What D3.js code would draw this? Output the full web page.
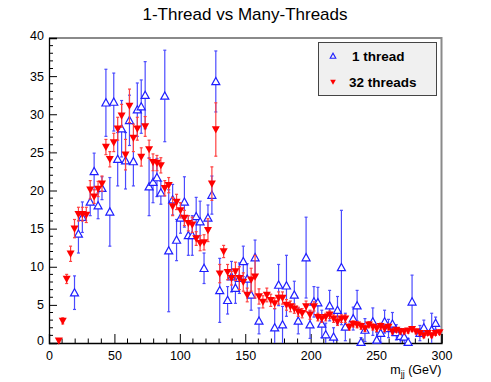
<!doctype html>
<html>
  <head>
    <script src="https://cdnjs.cloudflare.com/ajax/libs/d3/7.8.5/d3.min.js"></script>
    <style>
      body { margin: 0; background: #ffffff; }
      svg { display: block; font-family: "Liberation Sans", Arial, sans-serif; }
    </style>
  </head>
  <body>
    <svg id="chart"></svg>
    <script>
      // titles and legend texts
      var chartTitle = "1-Thread vs Many-Threads";
      var seriesNames = ["1 thread", "32 threads"];
      var xTicks = [0, 50, 100, 150, 200, 250, 300];
      var yTicks = [0, 5, 10, 15, 20, 25, 30, 35, 40];

      // 32 threads (red): bin centre, content, error
      var redMass = [7.5, 10.5, 13.5, 16.5, 19.5, 22.5, 25.5, 28.5, 31.5, 34.5,
        37.5, 40.5, 43.5, 46.5, 49.5, 52.5, 55.5, 58.5, 61.5, 64.5,
        67.5, 70.5, 73.5, 76.5, 79.5, 82.5, 85.5, 88.5, 91.5, 94.5,
        97.5, 100.5, 103.5, 106.5, 109.5, 112.5, 115.5, 118.5, 121.5, 124.5,
        127.5, 130.5, 133.5, 136.5, 139.5, 142.5, 145.5, 148.5, 151.5, 154.5,
        157.5, 160.5, 163.5, 166.5, 169.5, 172.5, 175.5, 178.5, 181.5, 184.5,
        187.5, 190.5, 193.5, 196.5, 199.5, 202.5, 205.5, 208.5, 211.5, 214.5,
        217.5, 220.5, 223.5, 226.5, 229.5, 232.5, 235.5, 238.5, 241.5, 244.5,
        247.5, 250.5, 253.5, 256.5, 259.5, 262.5, 265.5, 268.5, 271.5, 274.5,
        277.5, 280.5, 283.5, 286.5, 289.5, 292.5, 295.5, 298.5];
      var redVal = [0.3, 2.9, 8.4, 11.7, 15.0, 16.9, 16.9, 16.8, 20.1, 19.2,
        20.2, 20.9, 25.7, 24.1, 26.3, 28.1, 29.8, 24.7, 31.1, 26.9,
        28.1, 24.4, 28.4, 25.4, 23.7, 23.6, 23.3, 20.3, 20.7, 17.9,
        18.5, 17.4, 16.4, 15.7, 15.5, 13.7, 13.1, 13.2, 14.8, 20.9,
        28.0, 9.1, 12.0, 9.3, 8.5, 9.4, 8.5, 8.0, 6.3, 8.3,
        8.7, 6.1, 5.4, 6.3, 5.6, 5.2, 5.9, 5.9, 5.0, 4.8,
        4.5, 4.1, 3.9, 4.8, 3.7, 4.8, 3.4, 3.2, 3.4, 3.7,
        3.2, 2.8, 3.2, 3.2, 2.1, 2.5, 2.4, 2.2, 1.9, 2.4,
        2.1, 1.9, 2.2, 1.9, 2.1, 1.5, 1.7, 1.5, 1.5, 1.6,
        1.8, 1.5, 1.3, 1.0, 1.3, 1.0, 1.3, 1.4];
      var redErr = [0.2, 0.4, 0.6, 1.0, 1.2, 0.9, 0.9, 1.0, 1.2, 0.9,
        1.0, 1.0, 1.0, 1.0, 1.2, 1.5, 1.5, 2.0, 2.2, 1.8,
        1.5, 1.2, 1.3, 1.2, 1.1, 1.0, 1.0, 1.0, 1.0, 1.2,
        1.0, 1.0, 1.0, 1.0, 1.0, 0.9, 1.0, 1.0, 1.5, 2.2,
        3.5, 1.2, 0.8, 1.0, 0.9, 1.2, 1.5, 1.2, 0.9, 1.5,
        2.8, 1.0, 0.8, 0.9, 0.8, 0.7, 0.8, 0.8, 0.7, 0.7,
        0.6, 0.6, 0.6, 0.7, 0.6, 0.6, 0.5, 0.5, 0.5, 0.5,
        0.5, 0.5, 0.5, 0.5, 0.4, 0.4, 0.4, 0.4, 0.4, 0.4,
        0.4, 0.4, 0.4, 0.4, 0.4, 0.3, 0.3, 0.3, 0.3, 0.3,
        0.3, 0.3, 0.3, 0.3, 0.3, 0.3, 0.3, 0.3];

      // 1 thread (blue): bin centre, content, error
      var blueMass = [19.5, 22.5, 25.5, 31.5, 34.5, 37.5, 40.5, 43.5, 46.5, 49.5,
        52.5, 55.5, 58.5, 61.5, 64.5, 67.5, 70.5, 73.5, 76.5, 79.5,
        82.5, 85.5, 88.5, 91.5, 94.5, 97.5, 100.5, 103.5, 106.5, 109.5,
        112.5, 115.5, 118.5, 121.5, 124.5, 127.5, 130.5, 136.5, 139.5, 142.5,
        145.5, 148.5, 151.5, 154.5, 157.5, 160.5, 172.5, 175.5, 178.5, 181.5,
        187.5, 190.5, 196.5, 199.5, 202.5, 205.5, 208.5, 211.5, 214.5, 217.5,
        220.5, 223.5, 226.5, 232.5, 235.5, 238.5, 241.5, 247.5, 250.5, 253.5,
        256.5, 259.5, 262.5, 265.5, 268.5, 271.5, 274.5, 277.5, 283.5, 286.5,
        292.5, 295.5];
      var blueVal = [6.6, 14.3, 16.5, 18.5, 22.5, 18.0, 20.3, 31.5, 17.2, 31.6,
        24.1, 28.1, 23.9, 29.2, 23.8, 30.6, 31.0, 32.5, 20.5, 21.1,
        21.7, 19.7, 32.4, 12.1, 18.8, 13.5, 16.4, 18.5, 14.1, 14.1,
        16.6, 15.9, 9.8, 16.4, 19.4, 34.3, 6.9, 5.6, 8.7, 7.2,
        8.5, 10.7, 8.4, 6.3, 11.2, 2.9, 2.0, 7.6, 2.4, 7.5,
        6.3, 2.9, 11.2, 2.4, 5.4, 5.3, 2.5, 1.1, 4.9, 0.8,
        4.3, 9.9, 2.1, 3.2, 4.9, 0.1, 1.7, 2.8, 0.4, 1.3,
        2.8, 1.9, 2.5, 1.4, 0.9, 0.8, 0.1, 5.4, 1.3, 2.0,
        1.7, 2.6];
      var blueErr = [2.2, 2.5, 2.0, 1.8, 2.4, 1.7, 1.5, 4.4, 4.5, 3.8,
        3.5, 3.7, 3.7, 3.3, 3.2, 3.5, 3.5, 4.4, 3.8, 2.7,
        2.5, 1.5, 6.0, 8.0, 2.0, 2.7, 2.0, 3.3, 2.6, 2.6,
        2.5, 2.7, 2.0, 1.7, 2.5, 4.0, 4.2, 1.8, 2.0, 2.0,
        2.0, 2.0, 2.0, 2.0, 2.3, 1.7, 2.5, 2.7, 2.4, 4.0,
        1.8, 1.7, 5.3, 1.8, 2.0, 2.0, 1.8, 1.5, 2.0, 1.2,
        1.8, 7.5, 1.8, 1.5, 2.0, 0.6, 1.5, 1.8, 1.0, 1.2,
        1.5, 1.2, 1.5, 1.0, 1.0, 1.0, 0.5, 3.5, 1.0, 1.0,
        2.2, 0.8];

      var width = 491, height = 382;
      var padL = 49, padR = 441.5, padT = 38, padB = 343;

      var svg = d3.select("#chart").attr("width", width).attr("height", height);

      var x = d3.scaleLinear().domain([0, 300]).range([padL, padR]);
      var y = d3.scaleLinear().domain([0, 40]).range([padB, padT]);

      // title
      svg.append("text")
        .attr("x", 245).attr("y", 20)
        .attr("text-anchor", "middle")
        .attr("font-size", 17)
        .text(chartTitle);

      // frame (top and right in grey)
      svg.append("path")
        .attr("d", "M" + padL + "," + padT + "H" + padR + "V" + padB)
        .attr("fill", "none").attr("stroke", "#8a8a8a").attr("stroke-width", 2);

      // y axis with minor ticks
      var yAxis = d3.axisLeft(y).tickValues(yTicks).tickSize(-8).tickPadding(4)
        .tickFormat(d3.format("d"));
      var gy = svg.append("g").attr("transform", "translate(" + padL + ",0)").call(yAxis);
      gy.selectAll(".tick text").attr("x", -5).attr("text-anchor", "end").attr("font-size", 12.5)
        .attr("font-family", "Liberation Sans, Arial, sans-serif");
      gy.selectAll(".tick text").filter(function(d) { return d === 0 || d === 40; }).attr("dy", "0.1em");
      gy.append("g").selectAll("line").data(d3.range(0, 40, 1).filter(function(v) { return v % 5 !== 0; }))
        .enter().append("line")
          .attr("x1", 0).attr("x2", 4)
          .attr("y1", function(d) { return y(d); }).attr("y2", function(d) { return y(d); })
          .attr("stroke", "#000");

      // x axis with minor ticks
      var xAxis = d3.axisBottom(x).tickValues(xTicks).tickSize(-9).tickPadding(5)
        .tickFormat(d3.format("d"));
      var gx = svg.append("g").attr("transform", "translate(0," + padB + ")").call(xAxis);
      gx.selectAll(".tick text").attr("y", 8).attr("font-size", 12.5)
        .attr("font-family", "Liberation Sans, Arial, sans-serif");
      gx.append("g").selectAll("line").data(d3.range(0, 300, 10).filter(function(v) { return v % 50 !== 0; }))
        .enter().append("line")
          .attr("x1", function(d) { return x(d); }).attr("x2", function(d) { return x(d); })
          .attr("y1", 0).attr("y2", -4.5)
          .attr("stroke", "#000");
      svg.selectAll(".domain").attr("stroke", "#000").attr("stroke-width", 1.3);

      // x axis title m_jj (GeV)
      var xt = svg.append("text")
        .attr("x", padR).attr("y", 374)
        .attr("text-anchor", "end")
        .attr("font-size", 12.5);
      xt.append("tspan").text("m");
      xt.append("tspan").attr("dy", 3).attr("font-size", 9).text("jj");
      xt.append("tspan").attr("dy", -3).text(" (GeV)");

      function upTri(cx, cy, s) {
        return "M" + (cx - s) + "," + (cy + s * 0.8) + "L" + (cx + s) + "," + (cy + s * 0.8) +
          "L" + cx + "," + (cy - s) + "Z";
      }
      function downTri(cx, cy, s) {
        return "M" + (cx - s) + "," + (cy - s * 0.8) + "L" + (cx + s) + "," + (cy - s * 0.8) +
          "L" + cx + "," + (cy + s) + "Z";
      }

      var plot = svg.append("g");

      function drawErrors(mass, val, err, color) {
        var g = plot.append("g").attr("stroke", color).attr("stroke-width", 1.2);
        mass.forEach(function(m, i) {
          var lo = Math.max(0, val[i] - err[i]), hi = val[i] + err[i];
          g.append("line").attr("x1", x(m)).attr("x2", x(m))
            .attr("y1", y(lo)).attr("y2", y(hi));
          g.append("line").attr("x1", x(m) - 1.5).attr("x2", x(m) + 1.5)
            .attr("y1", y(hi)).attr("y2", y(hi));
          if (val[i] - err[i] > 0) {
            g.append("line").attr("x1", x(m) - 1.5).attr("x2", x(m) + 1.5)
              .attr("y1", y(lo)).attr("y2", y(lo));
          }
        });
      }

      // 1 thread
      drawErrors(blueMass, blueVal, blueErr, "#4b4bff");
      plot.append("g").selectAll("path").data(blueMass).enter().append("path")
        .attr("d", function(d, i) { return upTri(x(d), y(blueVal[i]), 4); })
        .attr("fill", "#ffffff").attr("stroke", "#1f1fff").attr("stroke-width", 1.2);

      // 32 threads
      drawErrors(redMass, redVal, redErr, "#ff4040");
      plot.append("g").selectAll("path").data(redMass).enter().append("path")
        .attr("d", function(d, i) { return downTri(x(d), y(redVal[i]), 4); })
        .attr("fill", "#ff0000").attr("stroke", "none");

      // legend
      var lg = svg.append("g");
      lg.append("rect").attr("x", 318.5).attr("y", 42.5).attr("width", 118).attr("height", 53)
        .attr("fill", "#f0f0f0").attr("stroke", "#444").attr("stroke-width", 1);
      lg.append("path").attr("d", upTri(333, 56, 2.8))
        .attr("fill", "none").attr("stroke", "#1f1fff").attr("stroke-width", 1.1);
      lg.append("path").attr("d", downTri(333, 82, 2.8)).attr("fill", "#ff0000");
      lg.append("text").attr("x", 352).attr("y", 61).attr("font-size", 13.5).attr("font-weight", "bold")
        .text(seriesNames[0]);
      lg.append("text").attr("x", 349).attr("y", 87).attr("font-size", 13.5).attr("font-weight", "bold")
        .text(seriesNames[1]);
    </script>
  </body>
</html>
